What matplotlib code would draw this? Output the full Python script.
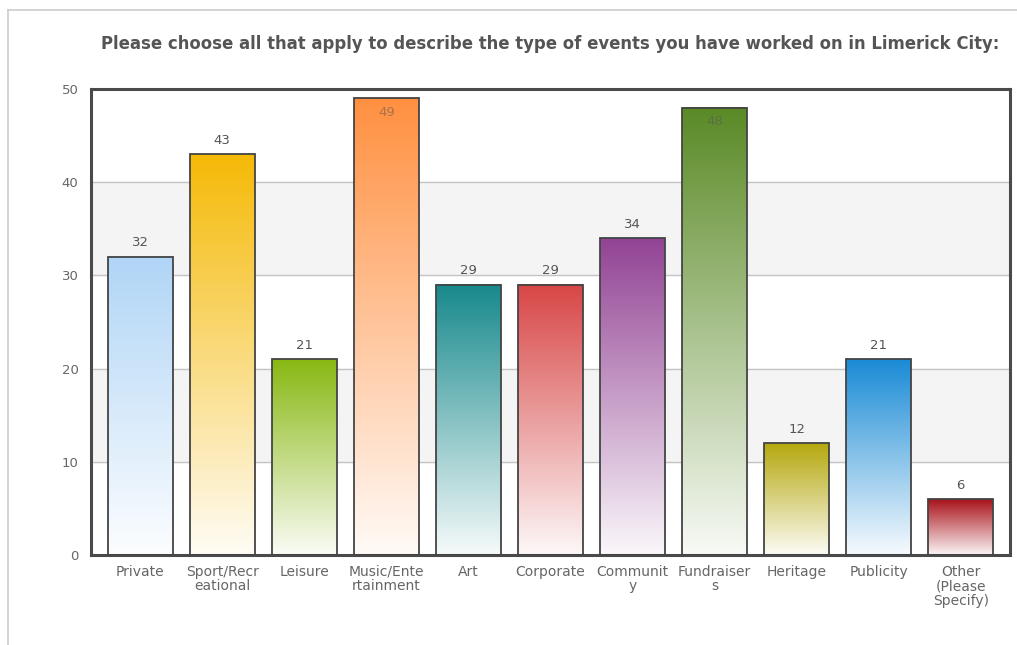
import numpy as np
import matplotlib.pyplot as plt
from matplotlib.colors import LinearSegmentedColormap, to_rgb
from matplotlib.patches import Rectangle
from matplotlib.lines import Line2D

# event types and answer counts
categories = ["Private", "Sport/Recr\neational", "Leisure", "Music/Ente\nrtainment", "Art",
              "Corporate", "Communit\ny", "Fundraiser\ns", "Heritage", "Publicity",
              "Other\n(Please\nSpecify)"]
counts = [32, 43, 21, 49, 29, 29, 34, 48, 12, 21, 6]
top_colors = ["#b0d5f6", "#f5b906", "#88b812", "#ff9040", "#17898c", "#d84646",
              "#924394", "#5a8a26", "#b5a80e", "#1a8bd6", "#a8121a"]
yticks = [0, 10, 20, 30, 40, 50]

fig = plt.figure(figsize=(10.17, 6.45), dpi=100)
ax = fig.add_axes([0.0895, 0.1395, 0.9036, 0.7225])

# alternating background bands and grid
ax.axhspan(10, 20, color="#f4f4f4", zorder=0)
ax.axhspan(30, 40, color="#f4f4f4", zorder=0)
for g in [10, 20, 30, 40]:
    ax.axhline(g, color="#c4c4c4", lw=1, zorder=1)

w = 0.79
grad = np.linspace(1, 0, 256).reshape(-1, 1)
for i, (v, c) in enumerate(zip(counts, top_colors)):
    rgb = np.array(to_rgb(c))
    pale = rgb + (1 - rgb) * 0.96
    cmap = LinearSegmentedColormap.from_list("g%d" % i, [pale, rgb])
    ax.imshow(grad, extent=(i - w/2, i + w/2, 0, v), aspect="auto", cmap=cmap,
              vmin=0, vmax=1, zorder=2, interpolation="bilinear")
    ax.add_patch(Rectangle((i - w/2, 0), w, v, fill=False, ec="#444444", lw=1.3, zorder=3))
    # labels that would hit the top border go inside the bar
    if v > 46:
        ax.text(i, v - 1.5, str(v), ha="center", va="center", fontsize=9.5,
                color="#555555", alpha=0.5, zorder=4)
    else:
        ax.text(i, v + 1.5, str(v), ha="center", va="center", fontsize=9.5,
                color="#555555", zorder=4)

ax.set_xlim(-0.6, 10.6)
ax.set_ylim(0, 50)
ax.set_xticks(range(len(categories)))
ax.set_xticklabels(categories, fontsize=10, color="#666666", linespacing=1.05)
ax.set_yticks(yticks)
ax.set_yticklabels([str(t) for t in yticks], fontsize=9.5, color="#666666")
ax.tick_params(axis="both", length=0)
ax.tick_params(axis="x", pad=7)
ax.tick_params(axis="y", pad=9)
for s in ax.spines.values():
    s.set_color("#4a4a4a")
    s.set_linewidth(2.2)

fig.text(0.541, 0.932, "Please choose all that apply to describe the type of events you have worked on in Limerick City:",
         ha="center", va="center", fontsize=11.9, fontweight="bold", color="#555555")

# thin page frame
fig.add_artist(Line2D([8/1017, 8/1017], [0, 1 - 10/645], color="#cccccc", lw=1.2))
fig.add_artist(Line2D([8/1017, 1], [1 - 10/645, 1 - 10/645], color="#cccccc", lw=1.2))

fig.savefig("out.png", dpi=100)
